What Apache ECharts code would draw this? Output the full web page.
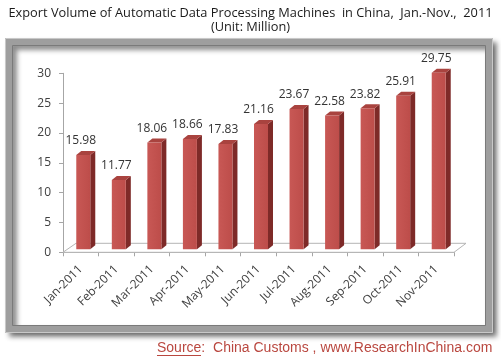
<!DOCTYPE html>
<html>
<head>
<meta charset="utf-8">
<script src="https://cdn.jsdelivr.net/npm/echarts@6/dist/echarts.min.js"></script>
<style>html,body{margin:0;padding:0;background:#fff;}#c{width:501px;height:359px;}</style>
</head>
<body>
<div id="c"></div>
<script>
var categories = ['Jan-2011','Feb-2011','Mar-2011','Apr-2011','May-2011','Jun-2011','Jul-2011','Aug-2011','Sep-2011','Oct-2011','Nov-2011'];
var values = [15.98, 11.77, 18.06, 18.66, 17.83, 21.16, 23.67, 22.58, 23.82, 25.91, 29.75];
var yTicks = [0, 5, 10, 15, 20, 25, 30];
var titleLine1 = 'Export Volume of Automatic Data Processing Machines  in China,  Jan.-Nov.,  2011';
var titleLine2 = '(Unit: Million)';
var sourceText = 'Source:  China Customs , www.ResearchInChina.com';

var chart = echarts.init(document.getElementById('c'), null, {renderer: 'canvas'});

var FRONT = '#C0504D', SIDE = '#7E2A28', TOP = '#A9433F';
var DEPTH_X = 5, DEPTH_Y = 4, FACE_W = 14, SHIFT_X = 2.5;

function renderBar(params, api) {
  var v = api.value(1);
  var top = api.coord([api.value(0), v]);
  var base = api.coord([api.value(0), 0]);
  var cx = top[0];
  var x0 = cx + SHIFT_X - FACE_W / 2, x1 = x0 + FACE_W;
  var yt = top[1] - 2, yb = base[1] - 3;
  return {
    type: 'group',
    children: [
      {type: 'polygon', shape: {points: [[x1, yt], [x1 + DEPTH_X, yt - DEPTH_Y], [x1 + DEPTH_X, yb - DEPTH_Y], [x1, yb]]}, style: {fill: SIDE}},
      {type: 'polygon', shape: {points: [[x0, yt], [x0 + DEPTH_X, yt - DEPTH_Y], [x1 + DEPTH_X, yt - DEPTH_Y], [x1, yt]]}, style: {fill: TOP}},
      {type: 'rect', shape: {x: x0, y: yt, width: FACE_W, height: yb - yt}, style: {fill: {type: 'linear', x: 0, y: 0, x2: 1, y2: 0, colorStops: [{offset: 0, color: '#C85855'}, {offset: 1, color: '#BD4D4A'}]}}},
      {type: 'text', style: {text: v.toFixed(2), x: cx, y: top[1] - 16, align: 'center', verticalAlign: 'middle', fill: '#333', font: '12px "Open Sans", sans-serif'}}
    ]
  };
}

function renderFloor(params, api) {
  var cs = params.coordSys;
  var fx = 13, fy = 9;
  var yb = cs.y + cs.height;
  return {
    type: 'polygon',
    shape: {points: [[cs.x, yb], [cs.x + fx, yb - fy], [cs.x + cs.width + fx - 1, yb - fy], [cs.x + cs.width, yb]]},
    style: {fill: '#fff', stroke: '#B5B5B5', lineWidth: 1}
  };
}

var option = {
  animation: false,
  backgroundColor: '#fff',
  title: {
    text: titleLine1 + '\n' + titleLine2,
    left: 'center', top: 1,
    textStyle: {fontFamily: '"Open Sans", sans-serif', fontSize: 12.8, fontWeight: 'normal', color: '#1a1a1a', lineHeight: 14}
  },
  graphic: [
    {type: 'rect', z: -10, shape: {x: 9, y: 42, width: 480, height: 287}, style: {fill: '#fff', stroke: '#9E9E9E', lineWidth: 8, shadowBlur: 5, shadowOffsetX: 4, shadowOffsetY: 4, shadowColor: 'rgba(0,0,0,0.45)'}},
    {type: 'rect', z: -9, shape: {x: 5.5, y: 38.5, width: 487, height: 294}, style: {fill: null, stroke: '#C8C8C8', lineWidth: 1}},
    {type: 'rect', z: -9, shape: {x: 12.5, y: 45.5, width: 473, height: 280}, style: {fill: null, stroke: '#7A7A7A', lineWidth: 1}},
    {type: 'text', z: 10, style: {text: sourceText, x: 157, y: 348, verticalAlign: 'middle', fill: '#B9473F', font: '14px "Liberation Sans", sans-serif'}},
    {type: 'line', z: 10, shape: {x1: 157, y1: 355.5, x2: 201, y2: 355.5}, style: {stroke: '#B9473F', lineWidth: 1}}
  ],
  grid: {left: 63, right: 47, top: 73.3, bottom: 106.7, containLabel: false},
  xAxis: {
    type: 'category',
    data: categories,
    axisLine: {show: true, lineStyle: {color: '#A6A6A6'}},
    axisTick: {show: true, length: 4, lineStyle: {color: '#A6A6A6'}},
    axisLabel: {rotate: 45, margin: 15, color: '#404040', fontSize: 12, fontFamily: '"Open Sans", sans-serif', interval: 0},
    splitLine: {show: false}
  },
  yAxis: {
    type: 'value',
    min: yTicks[0], max: yTicks[yTicks.length - 1], interval: yTicks[1] - yTicks[0],
    axisLine: {show: true, lineStyle: {color: '#A6A6A6'}},
    axisTick: {show: true, length: 4, lineStyle: {color: '#A6A6A6'}},
    axisLabel: {margin: 12, color: '#404040', fontSize: 12, fontFamily: '"Open Sans", sans-serif'},
    splitLine: {show: false}
  },
  series: [
    {type: 'custom', z: 1, renderItem: renderFloor, data: [[0, 0]], silent: true},
    {type: 'custom', z: 3, renderItem: renderBar, data: categories.map(function (c, i) { return [i, values[i]]; })}
  ]
};
chart.setOption(option);
</script>
</body>
</html>
